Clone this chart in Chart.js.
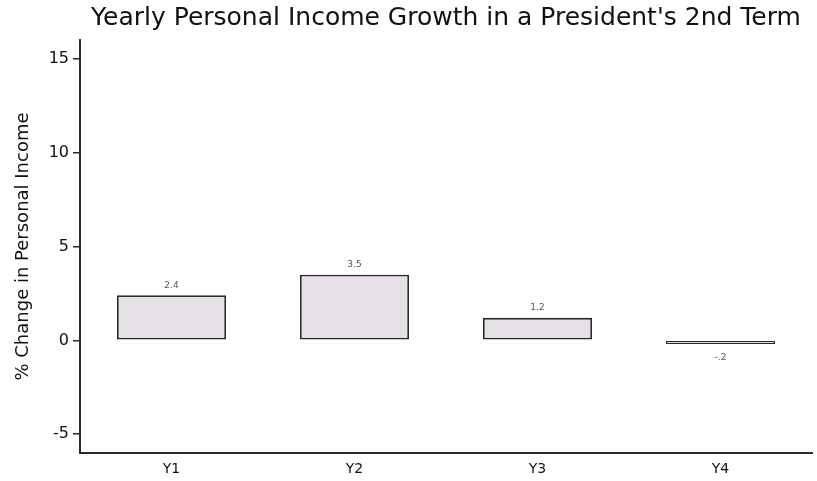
<!DOCTYPE html>
<html>
<head>
<meta charset="utf-8">
<script src="https://cdn.jsdelivr.net/npm/chart.js@4"></script>
<style>
  html, body { margin: 0; padding: 0; background: #fff; }
  #wrap { width: 817px; height: 481px; }
</style>
</head>
<body>
<div id="wrap"><canvas id="chart" width="817" height="481"></canvas></div>
<script>
const years = ['Y1', 'Y2', 'Y3', 'Y4'];
const incomeGrowth = [2.4, 3.5, 1.2, -0.2];
const yTicks = [-5, 0, 5, 10, 15];

// stata style labels: -.2 instead of -0.2
const fmt = v => String(v).replace(/^(-?)0\./, '$1.');

// value labels above / below each bar
const barLabels = {
  id: 'barLabels',
  afterDatasetsDraw(chart) {
    const ctx = chart.ctx;
    const meta = chart.getDatasetMeta(0);
    ctx.save();
    ctx.font = '9px "DejaVu Sans"';
    ctx.fillStyle = '#555';
    ctx.textAlign = 'center';
    ctx.textBaseline = 'middle';
    meta.data.forEach((bar, i) => {
      const v = incomeGrowth[i];
      const y = v >= 0 ? bar.y - 10 : bar.y + 14;
      ctx.fillText(fmt(v), bar.x, y);
    });
    ctx.restore();
  }
};

const ctx = document.getElementById('chart').getContext('2d');
new Chart(ctx, {
  type: 'bar',
  data: {
    labels: years,
    datasets: [{
      data: incomeGrowth,
      backgroundColor: '#e6e1e6',
      borderColor: '#2a2a2a',
      // thin bars keep a visible fill like the original
      borderWidth: c => Math.abs(c.raw) < 0.5 ? 1.2 : 1.8,
      borderSkipped: false,
      barPercentage: 0.596,
      categoryPercentage: 1
    }]
  },
  options: {
    responsive: false,
    animation: false,
    layout: { padding: { left: 0, right: 5, top: 0, bottom: 0 } },
    plugins: {
      legend: { display: false },
      tooltip: { enabled: false },
      title: {
        display: true,
        fullSize: false,
        text: "Yearly Personal Income Growth in a President's 2nd Term",
        color: '#111',
        font: { family: 'DejaVu Sans', size: 25, weight: 'normal' },
        padding: { top: 3, bottom: 7 }
      }
    },
    scales: {
      x: {
        grid: { display: false },
        border: { display: true, color: '#2a2a2a', width: 2 },
        ticks: { color: '#111', padding: 0, font: { family: 'DejaVu Sans', size: 14 } },
        afterFit(scale) { scale.height = 28; }
      },
      y: {
        min: -6,
        max: 16,
        afterBuildTicks(scale) { scale.ticks = yTicks.map(v => ({ value: v })); },
        grid: { display: true, drawOnChartArea: false, drawTicks: true, tickLength: 7, color: '#2a2a2a', lineWidth: 1.5 },
        border: { display: true, color: '#2a2a2a', width: 2 },
        ticks: { color: '#111', padding: 4, font: { family: 'DejaVu Sans', size: 16 } },
        title: {
          display: true,
          text: '% Change in Personal Income',
          color: '#111',
          font: { family: 'DejaVu Sans', size: 18 },
          padding: { top: 13, bottom: 0 }
        },
        afterFit(scale) { scale.width = 80; }
      }
    }
  },
  plugins: [barLabels]
});
</script>
</body>
</html>
